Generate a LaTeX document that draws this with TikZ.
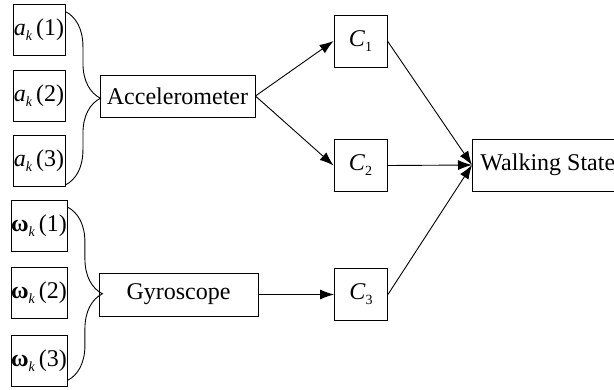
\documentclass[tikz,border=0pt]{standalone}
\usepackage{fontspec}
\setmainfont{Liberation Serif}
\usetikzlibrary{arrows.meta}
\usetikzlibrary{decorations.pathreplacing}

\newcommand{\lowsub}[1]{\raisebox{-5pt}{\fontsize{14}{14}\selectfont #1}}

\tikzset{
  box/.style={draw, line width=0.9pt, inner sep=0pt, font=\fontsize{24}{27}\selectfont},
  sbox/.style={box, minimum width=52pt, minimum height=51pt},
  arr/.style={line width=0.9pt, -{Latex[length=14pt,width=10pt]}},
  grp/.style={line width=0.9pt, decorate, decoration={brace, amplitude=35pt}}
}

\begin{document}
\begin{tikzpicture}[x=1pt,y=-1pt]
\useasboundingbox (0,0) rectangle (614,389);
% sensor axes
\foreach \i/\y in {1/29.5,2/95.5,3/161} {
 \node[sbox] (a\i) at (39,\y) {\textit{a}\lowsub{\textit{k}}\,(\i)};
}
\foreach \i/\y in {1/226,2/292.5,3/360.5} {
 \node[sbox] (w\i) at (39,\y) {\textbf{ω}\lowsub{\textit{k}}\,(\i)};
}
% sensors
\node[box, minimum width=155pt, minimum height=42pt] (acc) at (177.5,96) {Accelerometer};
\node[box, minimum width=159pt, minimum height=43pt] (gyr) at (178.5,294.5) {Gyroscope};
\draw[grp] ([yshift=-8pt]a1.north east) -- ([yshift=2pt]a3.south east);
\draw[grp] ([yshift=-7pt]w1.north east) -- ([yshift=6pt]w3.south east);
% classifiers
\foreach \i/\x/\y in {1/360.5/41,2/360.5/165.5,3/361/294.5} {
 \node[box, minimum width=53pt, minimum height=52pt] (c\i) at (\x,\y) {\textit{C}\lowsub{\i}};
}
\node[box, anchor=west, minimum height=52pt, inner xsep=8pt] (walk) at (472,165) {Walking State};
% connections
\draw[arr] (acc.east) -- (c1.west);
\draw[arr] (acc.east) -- (c2.west);
\draw[arr] (gyr.east) -- (c3.west);
\foreach \i in {1,2,3} {
 \draw[arr] (c\i.east) -- (walk.west);
}
\end{tikzpicture}
\end{document}
